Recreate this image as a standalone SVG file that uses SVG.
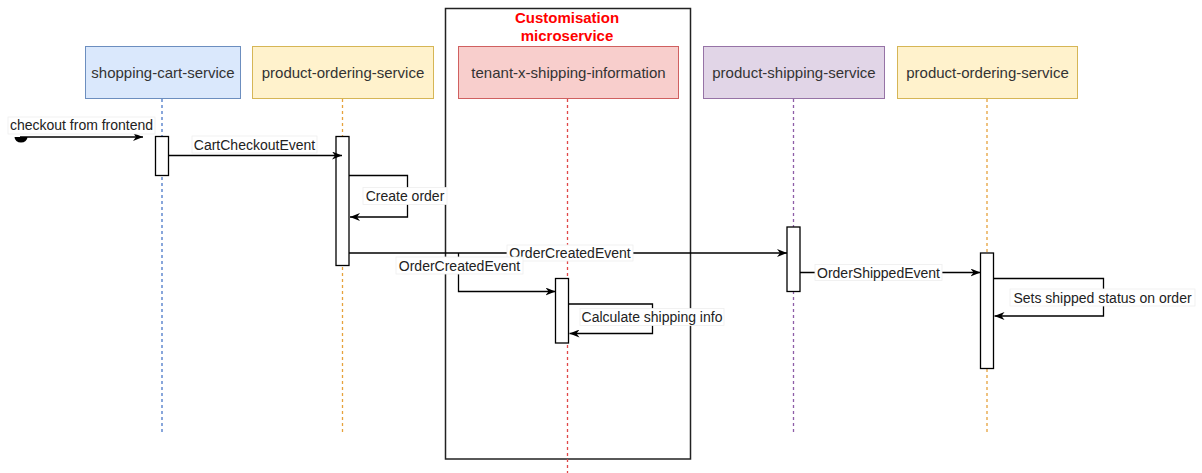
<svg xmlns="http://www.w3.org/2000/svg" width="1202" height="473" viewBox="0 0 1202 473">
<style>
  .node text{font-family:"Liberation Sans",Arial,sans-serif;font-size:15px;fill:#333;text-anchor:middle;dominant-baseline:central}
  .lbl{font-family:"Liberation Sans",Arial,sans-serif;font-size:14px;fill:#222;text-anchor:middle;dominant-baseline:central}
  .lblbg{fill:#fff;stroke:#eee;stroke-width:0.8}
  .msg{fill:none;stroke:#000;stroke-width:1.3}
  .act{fill:#fff;stroke:#000;stroke-width:1.3}
  .life{fill:none;stroke-width:1.3;stroke-dasharray:3 3}
  .title{font-family:"Liberation Sans",Arial,sans-serif;font-size:15px;font-weight:bold;fill:#ff0000;text-anchor:middle}
</style>
<defs>
  <marker id="arr" viewBox="0 0 10 8" refX="10" refY="4" markerWidth="10" markerHeight="8" markerUnits="userSpaceOnUse" orient="auto">
    <path d="M0,0 L10,4 L0,8 L3,4 Z" fill="#000"/>
  </marker>
</defs>
<rect width="1202" height="473" fill="#fff"/>

<g id="customisation-box">
  <rect x="445.5" y="8.5" width="245" height="450.5" fill="none" stroke="#222" stroke-width="1.5"/>
  <text class="title" x="567" y="23">Customisation</text>
  <text class="title" x="567" y="41">microservice</text>
</g>

<g id="lifelines">
  <line class="life" x1="162" y1="99" x2="162" y2="433" stroke="#4a78c8"/>
  <line class="life" x1="342.5" y1="99" x2="342.5" y2="433" stroke="#e6a23c"/>
  <line class="life" x1="567.5" y1="99" x2="567.5" y2="473" stroke="#e04848"/>
  <line class="life" x1="793.5" y1="99" x2="793.5" y2="433" stroke="#8e5ea8"/>
  <line class="life" x1="987" y1="99" x2="987" y2="433" stroke="#e6a23c"/>
</g>

<g id="shopping-cart-service" class="node">
  <rect x="85.5" y="46.5" width="155" height="52" fill="#dae8fc" stroke="#6c8ebf"/>
  <text x="163" y="72.5">shopping-cart-service</text>
</g>
<g id="product-ordering-service" class="node">
  <rect x="252.5" y="46.5" width="181" height="52" fill="#fff2cc" stroke="#d6b656"/>
  <text x="343" y="72.5">product-ordering-service</text>
</g>
<g id="tenant-x-shipping-information" class="node">
  <rect x="458.5" y="46.5" width="220" height="52" fill="#f8cecc" stroke="#d06060"/>
  <text x="568.5" y="72.5">tenant-x-shipping-information</text>
</g>
<g id="product-shipping-service" class="node">
  <rect x="703.5" y="46.5" width="181" height="52" fill="#e1d5e7" stroke="#9673a6"/>
  <text x="794" y="72.5">product-shipping-service</text>
</g>
<g id="product-ordering-service-2" class="node">
  <rect x="897.5" y="46.5" width="180" height="52" fill="#fff2cc" stroke="#d6b656"/>
  <text x="987.5" y="72.5">product-ordering-service</text>
</g>

<g id="activations">
  <rect class="act" x="155.5" y="136.5" width="13" height="39"/>
  <rect class="act" x="336" y="136.5" width="13" height="129"/>
  <rect class="act" x="555.5" y="278.5" width="13" height="64.5"/>
  <rect class="act" x="787" y="227" width="13" height="64.5"/>
  <rect class="act" x="980.5" y="253" width="13" height="115.5"/>
</g>

<g id="connectors">
  <path d="M14.5,137 A6.5,5.5 0 0 0 27.5,137 Z" fill="#000"/>
  <path class="msg" d="M20,137 L143,137" marker-end="url(#arr)"/>
  <path class="msg" d="M168.5,155.5 L342,155.5" marker-end="url(#arr)"/>
  <path class="msg" d="M349,175.5 L407.5,175.5 L407.5,217 L350,217" marker-end="url(#arr)"/>
  <path class="msg" d="M349,253 L787,253" marker-end="url(#arr)"/>
  <path class="msg" d="M458.5,253 L458.5,291.5 L555.5,291.5" marker-end="url(#arr)"/>
  <path class="msg" d="M568.5,304 L652.5,304 L652.5,333.5 L569.5,333.5" marker-end="url(#arr)"/>
  <path class="msg" d="M800,272.5 L980.5,272.5" marker-end="url(#arr)"/>
  <path class="msg" d="M993.5,278.5 L1103.5,278.5 L1103.5,316 L994.5,316" marker-end="url(#arr)"/>
</g>

<g id="labels">
  <rect class="lblbg" x="8" y="117" width="147" height="17"/>
  <text class="lbl" x="81.5" y="125">checkout from frontend</text>
  <rect class="lblbg" x="192" y="136" width="125" height="17"/>
  <text class="lbl" x="254.5" y="144.5">CartCheckoutEvent</text>
  <rect class="lblbg" x="363" y="187.5" width="84" height="17"/>
  <text class="lbl" x="405" y="196">Create order</text>
  <rect class="lblbg" x="507" y="245" width="126" height="16" stroke="none"/>
  <text class="lbl" x="570" y="253">OrderCreatedEvent</text>
  <rect class="lblbg" x="396" y="257" width="127" height="17"/>
  <text class="lbl" x="459.5" y="265.5">OrderCreatedEvent</text>
  <rect class="lblbg" x="580" y="308.5" width="144" height="17"/>
  <text class="lbl" x="652" y="317">Calculate shipping info</text>
  <rect class="lblbg" x="815" y="264.5" width="127" height="16"/>
  <text class="lbl" x="878.5" y="272.5">OrderShippedEvent</text>
  <rect class="lblbg" x="1010" y="289" width="185" height="17"/>
  <text class="lbl" x="1102.5" y="297.5">Sets shipped status on order</text>
</g>
</svg>
